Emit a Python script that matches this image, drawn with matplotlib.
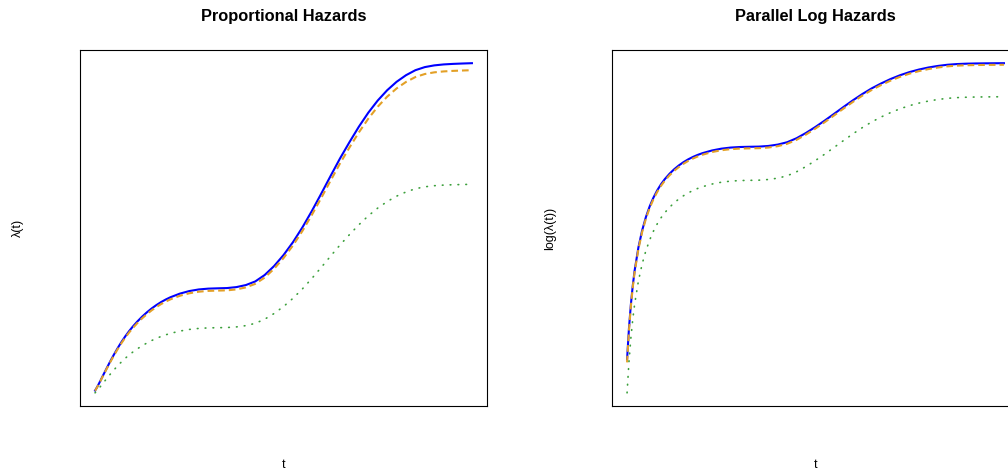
import numpy as np
import matplotlib
matplotlib.use("Agg")
import matplotlib.pyplot as plt

plt.rcParams['font.family'] = ['Liberation Sans', 'DejaVu Sans']

# time grid
t = [0.0, 0.05, 0.1, 0.15, 0.2, 0.3, 0.4, 0.5, 0.6, 0.7, 0.8, 0.9, 1.0,
     1.125, 1.25, 1.375, 1.5, 1.625, 1.75, 1.875, 2.0, 2.25, 2.5, 2.75, 3.0,
     3.25, 3.5, 3.75, 4.0, 4.25, 4.5, 4.75, 5.0, 5.25, 5.5, 5.75, 6.0, 6.25,
     6.5, 6.75, 7.0, 7.25, 7.5, 7.75, 8.0, 8.25, 8.5, 8.75, 9.0, 9.25, 9.5,
     9.75, 10.0]

# true hazard in the treated group
hazard_true = [0.0292, 0.0442, 0.0607, 0.0782, 0.0960, 0.1310, 0.1650, 0.1975,
               0.2280, 0.2565, 0.2827, 0.3067, 0.3285, 0.3531, 0.3754, 0.3954,
               0.4133, 0.4292, 0.4432, 0.4554, 0.4660, 0.4830, 0.4950, 0.5025,
               0.5063, 0.5078, 0.5090, 0.5135, 0.5230, 0.5400, 0.5700, 0.6120,
               0.6633, 0.7235, 0.7925, 0.8690, 0.9505, 1.0340, 1.1160, 1.1920,
               1.2645, 1.3300, 1.3870, 1.4350, 1.4745, 1.5055, 1.5290, 1.5435,
               1.5515, 1.5560, 1.5585, 1.5603, 1.5618]

# estimated hazard
hazard_est = [0.0280, 0.0429, 0.0592, 0.0765, 0.0940, 0.1282, 0.1615, 0.1934,
              0.2232, 0.2511, 0.2768, 0.3003, 0.3216, 0.3457, 0.3675, 0.3871,
              0.4046, 0.4202, 0.4339, 0.4458, 0.4562, 0.4729, 0.4846, 0.4919,
              0.4957, 0.4971, 0.4983, 0.5027, 0.5120, 0.5287, 0.5580, 0.5991,
              0.6494, 0.7083, 0.7759, 0.8508, 0.9305, 1.0123, 1.0926, 1.1670,
              1.2379, 1.3021, 1.3579, 1.4049, 1.4435, 1.4739, 1.4969, 1.5111,
              1.5189, 1.5233, 1.5258, 1.5275, 1.5290]

# baseline hazard
hazard_base = [0.0186, 0.0282, 0.0387, 0.0498, 0.0611, 0.0834, 0.1051, 0.1258,
               0.1452, 0.1634, 0.1801, 0.1954, 0.2092, 0.2249, 0.2391, 0.2518,
               0.2632, 0.2734, 0.2823, 0.2901, 0.2968, 0.3076, 0.3153, 0.3201,
               0.3225, 0.3234, 0.3242, 0.3271, 0.3331, 0.3439, 0.3631, 0.3898,
               0.4225, 0.4608, 0.5048, 0.5535, 0.6054, 0.6586, 0.7108, 0.7592,
               0.8054, 0.8471, 0.8834, 0.9140, 0.9392, 0.9589, 0.9739, 0.9831,
               0.9882, 0.9911, 0.9927, 0.9938, 0.9948]

titles = ["Proportional Hazards", "Parallel Log Hazards"]
ylabels = ["\u03bb(t)", "log(\u03bb(t))"]

W, H = 1008, 476
fig = plt.figure(figsize=(W / 100, H / 100), dpi=100)

panel_left_px = [80, 612]
panel_w_px, top_px, bottom_px = 407, 50, 406

for i in range(2):
    lpx = panel_left_px[i]
    ax = fig.add_axes([lpx / W, 1 - bottom_px / H,
                       panel_w_px / W, (bottom_px - top_px) / H])
    tr = np.array(t)
    series = [np.array(hazard_true), np.array(hazard_est), np.array(hazard_base)]
    if i == 1:
        series = [np.log(s) for s in series]
    y_true, y_est, y_base = series

    ax.plot(tr, y_true, color='blue', lw=1.5, solid_joinstyle='round')
    l_est, = ax.plot(tr, y_est, color='#E3A026', lw=1.5)
    l_est.set_dashes((3.2, 1.9))
    l_base, = ax.plot(tr, y_base, color='#3CA03C', lw=1.2,
                      dash_capstyle='round')
    l_base.set_dashes((0.4, 4.3))

    ax.margins(0.04)
    ax.set_xticks([])
    ax.set_yticks([])
    for sp in ax.spines.values():
        sp.set_linewidth(0.8)
        sp.set_color('black')

    cx = (lpx + panel_w_px / 2) / W
    fig.text(cx, 1 - 17 / H, titles[i], ha='center', va='center',
             fontsize=11.8, fontweight='bold')
    fig.text(cx, 1 - 465 / H, "t", ha='center', va='center', fontsize=9)
    fig.text((lpx - 62) / W, 1 - 228 / H, ylabels[i], ha='center',
             va='center', rotation=90, fontsize=9)

fig.savefig("out.png", dpi=100)
